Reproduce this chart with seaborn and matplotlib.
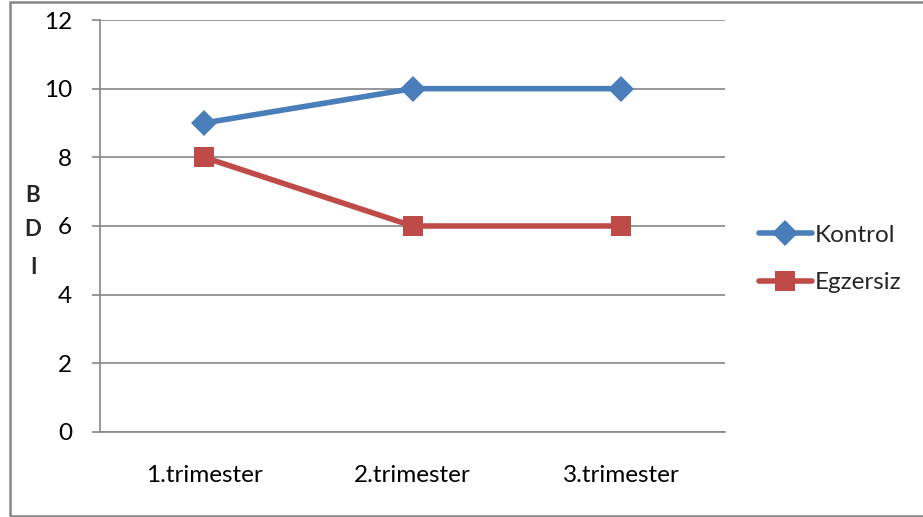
import matplotlib
matplotlib.use("Agg")
import matplotlib.pyplot as plt
from matplotlib.patches import Rectangle
from matplotlib.lines import Line2D
import seaborn as sns
import pandas as pd

# Mean BDI scores per trimester
trimesters = ["1.trimester", "2.trimester", "3.trimester"]
kontrol = [9, 10, 10]
egzersiz = [8, 6, 6]
series_names = ["Kontrol", "Egzersiz"]
y_ticks = [0, 2, 4, 6, 8, 10, 12]

df = pd.DataFrame({
    "trimester": trimesters * 2,
    "BDI": kontrol + egzersiz,
    "grup": [series_names[0]] * 3 + [series_names[1]] * 3,
})

sns.set_theme(style="white")
plt.rcParams["font.family"] = ["Lato", "DejaVu Sans"]

W, H = 923, 517
fig = plt.figure(figsize=(W / 100, H / 100), dpi=100)
ax = fig.add_axes([100 / W, 1 - 432 / H, (725 - 100) / W, (432 - 20) / H])

blue = "#4A7EBB"
red = "#BE4B48"
grid_c = "#868686"
FS = 17.5
LW = 4.0
MS_SQ = 14.5
MS_DI = 13.0

palette = {"Kontrol": blue, "Egzersiz": red}
markers = {"Kontrol": "D", "Egzersiz": "s"}
sns.lineplot(data=df, x="trimester", y="BDI", hue="grup", style="grup",
             palette=palette, markers=markers, dashes=False,
             linewidth=LW, markersize=MS_SQ, markeredgewidth=0,
             legend=False, ax=ax, zorder=3)
# diamond drawn a little smaller than the square
for ln in ax.lines:
    if ln.get_marker() == "D":
        ln.set_markersize(MS_DI)

ax.set_xlim(-0.5, 2.5)
ax.set_ylim(0, 12)
ax.set_yticks(y_ticks)
ax.set_yticklabels([str(v) for v in y_ticks], fontsize=FS, color="black")
ax.set_xticks(range(3))
ax.set_xticklabels(trimesters, fontsize=FS, color="black")
ax.set_xticks([-0.5, 0.5, 1.5, 2.5], minor=True)
ax.tick_params(axis="x", which="major", length=0, pad=24)
ax.tick_params(axis="x", which="minor", length=6, width=1.2, color=grid_c)
ax.tick_params(axis="y", which="major", length=6, width=1.2, color=grid_c,
               pad=14, left=True)
ax.set_xlabel("")
ax.set_ylabel("")

ax.yaxis.grid(True, color=grid_c, linewidth=1.2)
ax.xaxis.grid(False)
ax.set_axisbelow(True)
for side in ("top", "right"):
    ax.spines[side].set_visible(False)
for side in ("left", "bottom"):
    ax.spines[side].set_color(grid_c)
    ax.spines[side].set_linewidth(1.2)
ax.set_facecolor("none")

# stacked axis title
for ch, yp in zip("BDI", [195, 229, 268]):
    fig.text(33 / W, 1 - yp / H, ch, fontsize=16, fontweight="bold",
             ha="center", va="center")

handles = [
    Line2D([], [], color=blue, lw=LW, marker="D", markersize=MS_DI, markeredgewidth=0),
    Line2D([], [], color=red, lw=LW, marker="s", markersize=MS_SQ, markeredgewidth=0),
]
fig.legend(handles, series_names, loc="center left",
           bbox_to_anchor=(749 / W, 1 - 259 / H), frameon=False,
           fontsize=FS, handlelength=2.2, handletextpad=0.1,
           labelspacing=1.1, borderaxespad=0)

# chart border
fig.patches.append(Rectangle((10 / W, 1 / H), 1.2, 1 - 3 / H,
                             transform=fig.transFigure, fill=False,
                             edgecolor=grid_c, linewidth=1.8))

fig.savefig("out.png", dpi=100)
